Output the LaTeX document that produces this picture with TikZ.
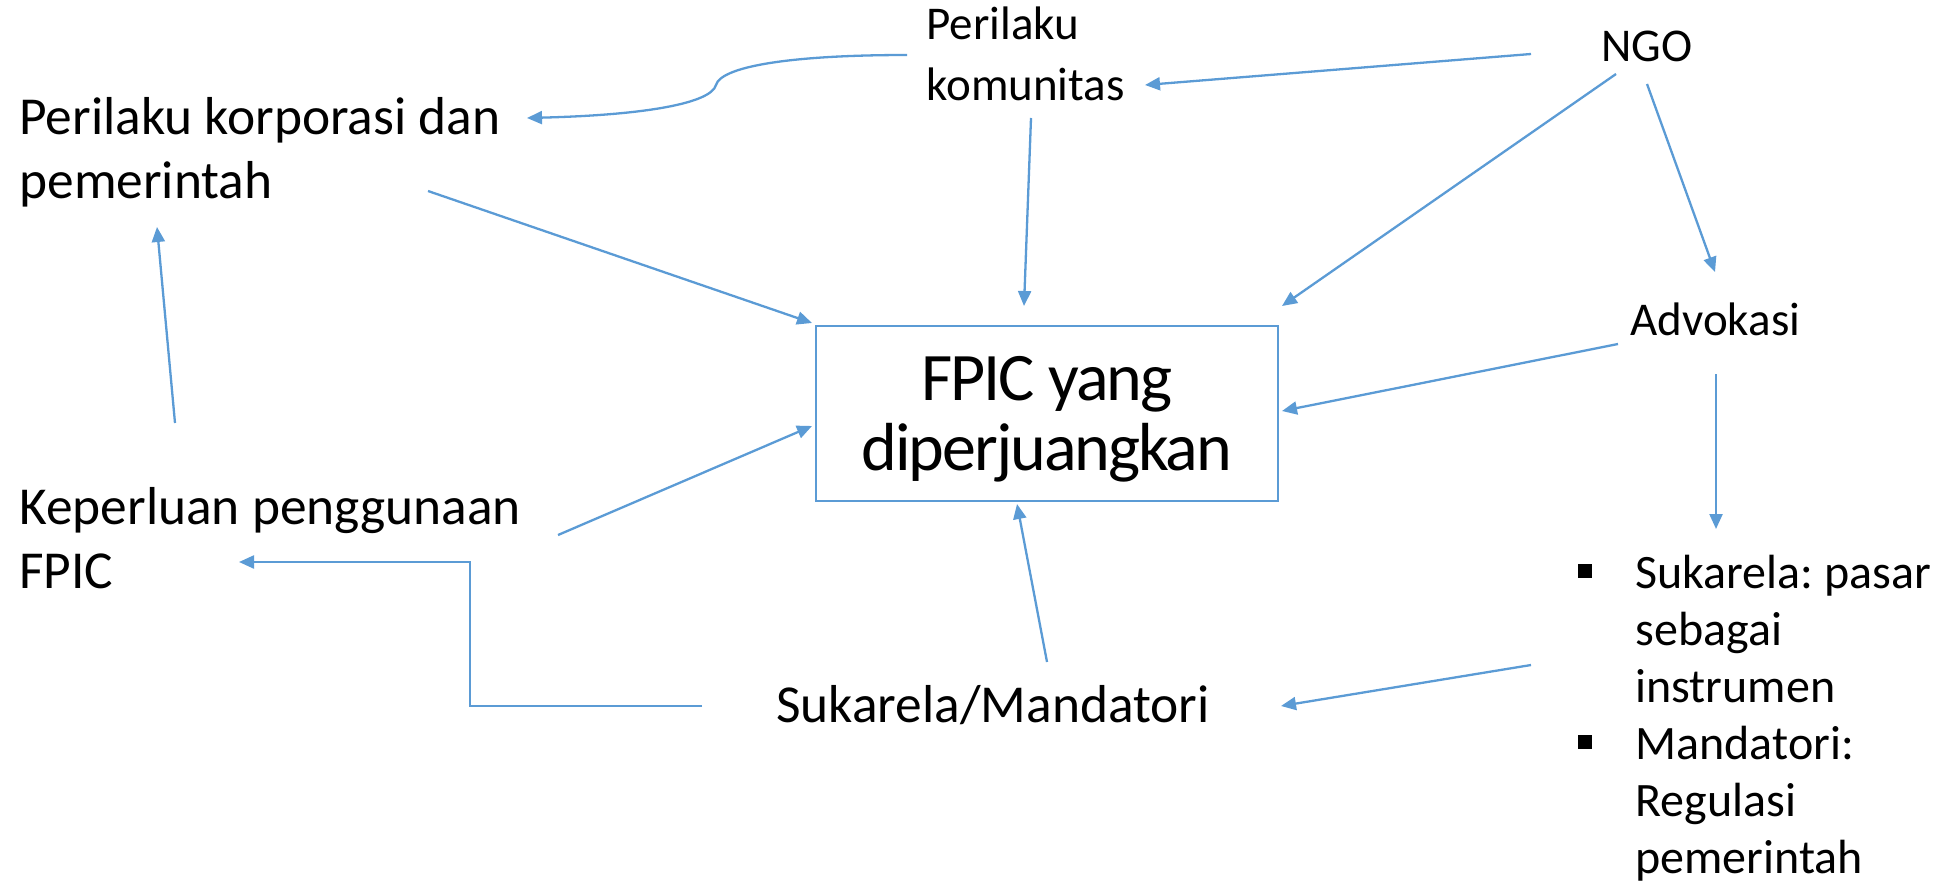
\documentclass[tikz,border=0pt]{standalone}
\usepackage{fontspec}
\setmainfont{Carlito}
\usetikzlibrary{arrows.meta}
\definecolor{linieblau}{HTML}{5B9BD5}
\tikzset{
    pfeil/.style={
        draw=linieblau,
        line width=1.15pt,
        -{Triangle[length=7.5pt,width=6.5pt]}
    },
    gross/.style={
        inner sep=0pt, anchor=base west, align=left,
        font=\fontsize{26.7pt}{32pt}\selectfont
    },
    klein/.style={
        inner sep=0pt, anchor=base west, align=left,
        font=\fontsize{23.5pt}{30pt}\selectfont
    }
}
\newcommand{\quadrat}{\raisebox{5pt}{\rule{7pt}{7pt}}}
\frenchspacing

\begin{document}
\begin{tikzpicture}[x=0.5pt,y=-0.5pt]
    \useasboundingbox (0,0) rectangle (1941,883);

    % Zentraler Kasten
    \node[draw=linieblau, line width=1pt, minimum width=231pt, minimum height=87.5pt,
          inner sep=0pt, text depth=0pt, align=center,
          font=\fontsize{34pt}{35pt}\addfontfeature{LetterSpace=-3.0}\selectfont]
          (fpic) at (1047,413.5) {FPIC yang\\diperjuangkan};

    % Texte links (Anker: Grundlinie der letzten Zeile)
    \node[gross] (korporasi) at (19,198) {Perilaku korporasi dan\\pemerintah};
    \node[gross] (keperluan) at (19,588) {Keperluan penggunaan\\FPIC};

    % Texte oben
    \node[klein] (komunitas) at (926,100) {Perilaku\\komunitas};
    \node[klein] (ngo) at (1601,62) {NGO};
    \node[klein] (advokasi) at (1630,335) {Advokasi};

    % Texte unten
    \node[gross] (sukarela) at (776,722) {Sukarela/Mandatori};
    \node[inner sep=0pt, anchor=base west, align=left,
          font=\fontsize{24pt}{28.5pt}\selectfont] (liste) at (1635,873)
          {\llap{\quadrat\hspace{21.5pt}}Sukarela: pasar\\sebagai\\instrumen\\
           \llap{\quadrat\hspace{21.5pt}}Mandatori:\\Regulasi\\pemerintah};

    % Pfeile
    \draw[pfeil] ([shift={(-19,-45)}]komunitas.base west)
        .. controls +(-120,0) and +(5,-18) .. (716,85)
        .. controls +(-5,18) and +(120,-3) .. ([shift={(508,-80)}]korporasi.base west);
    \draw[pfeil] ([shift={(-70,-8)}]ngo.base west) -- ([shift={(219,-15)}]komunitas.base west);
    \draw[pfeil] ([shift={(105,18)}]komunitas.base west) -- ([shift={(209,-19)}]fpic.north west);
    \draw[pfeil] ([shift={(15,12)}]ngo.base west) -- ([shift={(3,-19)}]fpic.north east);
    \draw[pfeil] ([shift={(46,22)}]ngo.base west) -- ([shift={(85,-63)}]advokasi.base west);
    \draw[pfeil] ([shift={(-12,9)}]advokasi.base west) -- ([shift={(3,86)}]fpic.north east);
    \draw[pfeil] ([shift={(86,39)}]advokasi.base west) -- ([shift={(81,-344)}]liste.base west);
    \draw[pfeil] ([shift={(-104,-208)}]liste.base west) -- ([shift={(505,-16)}]sukarela.base west);
    \draw[pfeil] ([shift={(271,-60)}]sukarela.base west) -- ([shift={(202,2)}]fpic.south west);
    \draw[pfeil] ([shift={(409,-7)}]korporasi.base west) -- ([shift={(-3,-2)}]fpic.north west);
    \draw[pfeil] ([shift={(539,-53)}]keperluan.base west) -- ([shift={(-3,-76)}]fpic.south west);
    \draw[pfeil] ([shift={(156,-165)}]keperluan.base west) -- ([shift={(138,29)}]korporasi.base west);
    \draw[pfeil] ([shift={(-74,-16)}]sukarela.base west) -- ++(-232,0)
        |- ([shift={(220,-26)}]keperluan.base west);

\end{tikzpicture}
\end{document}
